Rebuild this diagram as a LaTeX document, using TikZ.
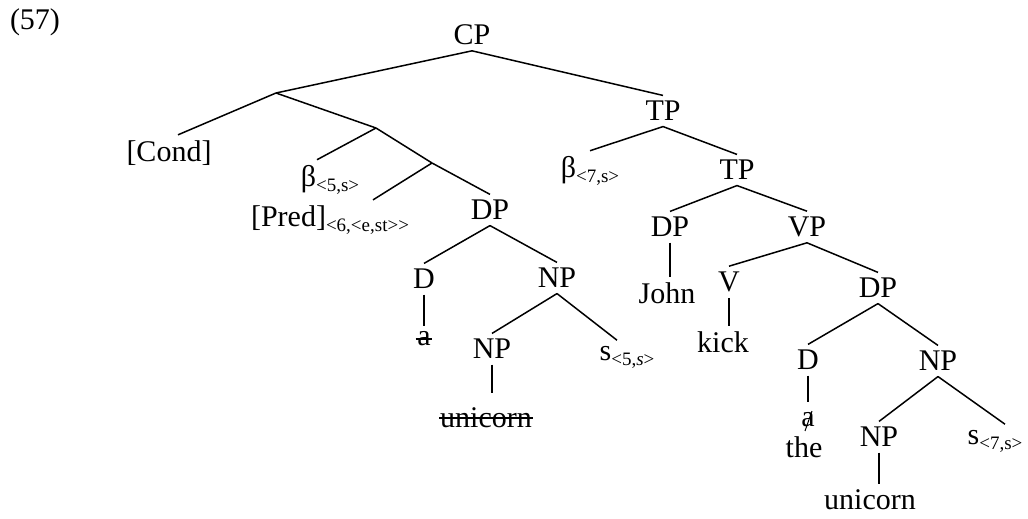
\documentclass[tikz,border=0pt]{standalone}
\usepackage{fontspec}
\setmainfont{Liberation Serif}
\usepackage{tikz}
\newcommand{\idx}[1]{\raisebox{-5pt}{\fontsize{19}{22}\selectfont #1}}
\begin{document}
\begin{tikzpicture}[x=1pt,y=-1pt,line width=1.5pt,
    every node/.style={inner sep=5pt,font=\fontsize{30}{36}\selectfont},
    struck/.style={inner sep=0pt}]
      \useasboundingbox (0,0) rectangle (1028,519);
      \node (ex) at (35,22) {(57)};
      \node (cp) at (472,35) {CP};
      \coordinate (x1) at (276,93);
      \coordinate (x2) at (376,128);
      \coordinate (x3) at (432,163);
      \node (cond) at (169,153) {[Cond]};
      \node (betaA) at (330,180) {β\idx{<5,s>}};
      \node (pred) at (330,220) {[Pred]\idx{<6,<e,st>{}>}};
      \node (dpA) at (490,210) {DP};
      \node (dA) at (424,279) {D};
      \node[struck] (aA) at (424,339) {a};
      \node (npA) at (557,278) {NP};
      \node (npB) at (492,349) {NP};
      \node[struck] (uniA) at (486,418) {unicorn};
      \node (sA) at (627,357) {s\idx{<5,\textit{s}>}};
      \node (tpA) at (663,111) {TP};
      \node (betaB) at (590,171) {β\idx{<7,s>}};
      \node (tpB) at (737,170) {TP};
      \node (dpB) at (670,227) {DP};
      \node (john) at (667,293) {John};
      \node (vp) at (807,227) {VP};
      \node (v) at (729,282) {V};
      \node (kick) at (723,342) {kick};
      \node (dpC) at (878,288) {DP};
      \node (dB) at (808,360) {D};
      \node[struck] (aB) at (808,420) {a};
      \node (the) at (804,447) {the};
      \node (npC) at (938,361) {NP};
      \node (npD) at (879,437) {NP};
      \node (uniB) at (870,500) {unicorn};
      \node (sB) at (995,441) {s\idx{<7,s>}};
      \draw (cp.south) -- (x1);
      \draw (cp.south) -- (tpA.north);
      \draw (x1) -- ([xshift=9pt]cond.north);
      \draw (x1) -- (x2);
      \draw (x2) -- ([xshift=-13pt]betaA.north);
      \draw (x2) -- (x3);
      \draw (x3) -- ([xshift=43pt]pred.north);
      \draw (x3) -- (dpA.north);
      \draw (dpA.south) -- (dA.north);
      \draw (dpA.south) -- (npA.north);
      \draw (dA.south) -- ([yshift=5pt]aA.north);
      \draw (npA.south) -- (npB.north);
      \draw (npA.south) -- ([xshift=-10pt]sA.north);
      \draw (npB.south) -- ([xshift=6pt,yshift=14pt]uniA.north);
      \draw[line width=1.2pt] ([xshift=-1pt]aA.west) -- ([xshift=1pt]aA.east);
      \draw[line width=1.2pt] (uniA.west) -- (uniA.east);
      \draw (tpA.south) -- (betaB.north);
      \draw (tpA.south) -- (tpB.north);
      \draw (tpB.south) -- (dpB.north);
      \draw (tpB.south) -- (vp.north);
      \draw (dpB.south) -- ([xshift=3pt]john.north);
      \draw (vp.south) -- (v.north);
      \draw (vp.south) -- (dpC.north);
      \draw (v.south) -- ([xshift=6pt]kick.north);
      \draw (dpC.south) -- (dB.north);
      \draw (dpC.south) -- (npC.north);
      \draw (dB.south) -- ([yshift=10pt]aB.north);
      \draw[line width=1pt] ([shift={(-3pt,-3pt)}]aB.south) -- ([shift={(4pt,1pt)}]aB.north);
      \draw (npC.south) -- (npD.north);
      \draw (npC.south) -- ([xshift=10pt]sB.north);
      \draw (npD.south) -- ([xshift=9pt]uniB.north);
\end{tikzpicture}
\end{document}
